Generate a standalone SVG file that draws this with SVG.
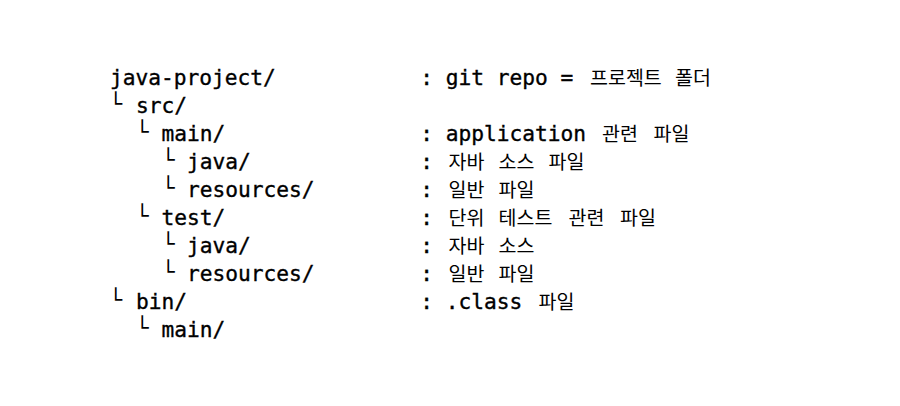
<svg xmlns="http://www.w3.org/2000/svg" width="900" height="406" viewBox="0 0 900 406">
<style>
  .m { font-family: "DejaVu Sans Mono", "Liberation Mono", monospace; font-size: 21.2px; fill: #000; stroke: #000; stroke-width: 0.35px; }
  .b { font-family: "DejaVu Sans Mono", "Liberation Mono", monospace; font-size: 21.2px; fill: #000; text-anchor: middle; }
  .k { font-family: "Noto Sans CJK KR", "Noto Sans", sans-serif; font-size: 19.5px; fill: #000; }
</style>
<rect width="900" height="406" fill="#fff"/>
<g id="row-java-project">
  <text class="m" x="110" y="85">java-project/</text>
  <text class="m" x="420.3" y="85">: git repo =</text>
  <text class="k" x="590" y="85">프로젝트</text>
  <text class="k" x="675" y="85">폴더</text>
</g>
<g id="row-src">
  <text class="b" x="116" y="111">└</text>
  <text class="m" x="136" y="113">src/</text>
</g>
<g id="row-main">
  <text class="b" x="142.5" y="139">└</text>
  <text class="m" x="161.5" y="141">main/</text>
  <text class="m" x="420.3" y="141">: application</text>
  <text class="k" x="602" y="141">관련</text>
  <text class="k" x="653.5" y="141">파일</text>
</g>
<g id="row-main-java">
  <text class="b" x="168.3" y="167">└</text>
  <text class="m" x="187" y="169">java/</text>
  <text class="m" x="420.3" y="169">:</text>
  <text class="k" x="448.5" y="169">자바</text>
  <text class="k" x="498.5" y="169">소스</text>
  <text class="k" x="548.5" y="169">파일</text>
</g>
<g id="row-main-resources">
  <text class="b" x="168.3" y="195">└</text>
  <text class="m" x="187" y="197">resources/</text>
  <text class="m" x="420.3" y="197">:</text>
  <text class="k" x="448.5" y="197">일반</text>
  <text class="k" x="498.5" y="197">파일</text>
</g>
<g id="row-test">
  <text class="b" x="142.5" y="223">└</text>
  <text class="m" x="161.5" y="225">test/</text>
  <text class="m" x="420.3" y="225">:</text>
  <text class="k" x="448.5" y="225">단위</text>
  <text class="k" x="498.5" y="225">테스트</text>
  <text class="k" x="568.5" y="225">관련</text>
  <text class="k" x="620" y="225">파일</text>
</g>
<g id="row-test-java">
  <text class="b" x="168.3" y="251">└</text>
  <text class="m" x="187" y="253">java/</text>
  <text class="m" x="420.3" y="253">:</text>
  <text class="k" x="448.5" y="253">자바</text>
  <text class="k" x="498.5" y="253">소스</text>
</g>
<g id="row-test-resources">
  <text class="b" x="168.3" y="279">└</text>
  <text class="m" x="187" y="281">resources/</text>
  <text class="m" x="420.3" y="281">:</text>
  <text class="k" x="448.5" y="281">일반</text>
  <text class="k" x="498.5" y="281">파일</text>
</g>
<g id="row-bin">
  <text class="b" x="116" y="307">└</text>
  <text class="m" x="136" y="309">bin/</text>
  <text class="m" x="420.3" y="309">: .class</text>
  <text class="k" x="538.5" y="309">파일</text>
</g>
<g id="row-bin-main">
  <text class="b" x="142.5" y="335">└</text>
  <text class="m" x="161.5" y="337">main/</text>
</g>
<g id="connectors"></g>
</svg>
